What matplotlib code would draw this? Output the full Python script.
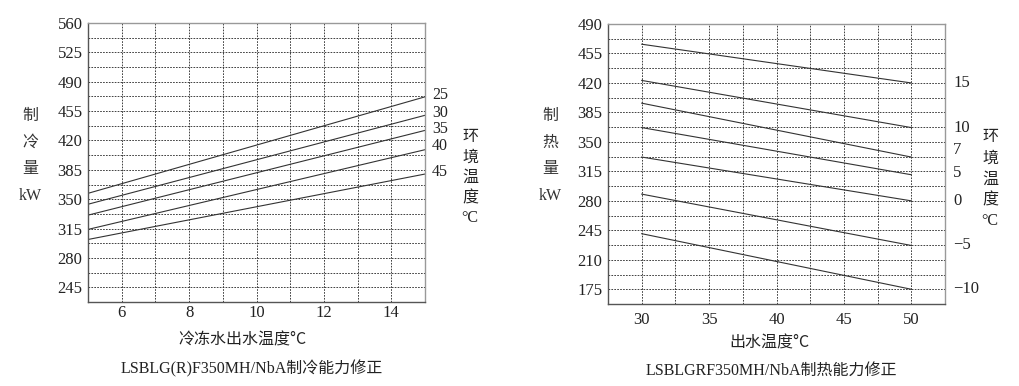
import matplotlib
matplotlib.use("Agg")
import matplotlib.pyplot as plt
import numpy as np

plt.rcParams['font.family'] = ['Liberation Serif', 'Noto Sans CJK SC', 'DejaVu Sans']

# Cooling chart data
cool_x = [5, 15]
cool_labels = ['25', '30', '35', '40', '45']
cool_25 = [357, 472]
cool_30 = [344, 450]
cool_35 = [331, 432]
cool_40 = [314, 409]
cool_45 = [302, 380]
cool_series = [cool_25, cool_30, cool_35, cool_40, cool_45]
cool_yticks = [245, 280, 315, 350, 385, 420, 455, 490, 525, 560]
cool_xticks = [6, 8, 10, 12, 14]

# Heating chart data
heat_x = [30, 50]
heat_labels = ['15', '10', '7', '5', '0', '−5', '−10']
heat_15 = [466, 420]
heat_10 = [423, 367]
heat_7 = [396, 332]
heat_5 = [367, 311]
heat_0 = [332, 280]
heat_m5 = [288, 227]
heat_m10 = [241, 175]
heat_series = [heat_15, heat_10, heat_7, heat_5, heat_0, heat_m5, heat_m10]
heat_yticks = [175, 210, 245, 280, 315, 350, 385, 420, 455, 490]
heat_xticks = [30, 35, 40, 45, 50]

W, H = 1019, 386
fig = plt.figure(figsize=(W / 100, H / 100), dpi=100)

def px_axes(l, t, r, b):
    return fig.add_axes([l / W, 1 - b / H, (r - l) / W, (b - t) / H])

FS = 12
CJK = ['Noto Sans CJK SC', 'DejaVu Sans']

def style(ax, xlim, ylim, xgrid, ygrid, xticks, yticks):
    ax.set_xlim(*xlim)
    ax.set_ylim(*ylim)
    ax.set_xticks(xticks)
    ax.set_yticks(yticks)
    ax.set_xticks(xgrid, minor=True)
    ax.set_yticks(ygrid, minor=True)
    ax.grid(which='both', color='#222222', linestyle=(0, (2, 1.5)), linewidth=0.6)
    ax.tick_params(which='both', length=0, labelsize=FS, colors='#222222', pad=4)
    for s in ['left', 'bottom']:
        ax.spines[s].set_color('#555555')
        ax.spines[s].set_linewidth(1.0)
    for s in ['top', 'right']:
        ax.spines[s].set_color('#999999')
        ax.spines[s].set_linewidth(1.0)

# Cooling axes
ax1 = px_axes(88, 23, 425, 302)
style(ax1, (5, 15), (227.5, 560), np.arange(5, 15.01, 1), np.arange(227.5, 560.1, 17.5), cool_xticks, cool_yticks)
ax1.tick_params(axis='x', pad=2)
for ys in cool_series:
    ax1.plot(cool_x, ys, color='#333333', linewidth=0.8)
cool_label_y = [474, 452.5, 433.5, 413, 382]
for lab, ly in zip(cool_labels, cool_label_y):
    ax1.annotate(lab, xy=(1.0, ly), xycoords=('axes fraction', 'data'), xytext=(5, 0), textcoords='offset points',
                 va='center', ha='left', fontsize=11.5, color='#222222')
for i, ch in enumerate(['制', '冷', '量', 'kW']):
    fig.text(30 / W, 1 - (115 + 27 * i) / H, ch, ha='center', va='center', fontsize=11.5,
             family=CJK if ch != 'kW' else ['Liberation Serif'], color='#333333')
for i, ch in enumerate(['环', '境', '温', '度', '°C']):
    fig.text(470 / W, 1 - (137 + 20.3 * i) / H, ch, ha='center', va='center', fontsize=11.5,
             family=CJK if ch != '°C' else ['Liberation Serif'], color='#222222')
fig.text(242 / W, 1 - 340 / H, '冷冻水出水温度°C', ha='center', va='center', fontsize=11.5, family=CJK, color='#222222')
fig.text(252 / W, 1 - 369 / H, 'LSBLG(R)F350MH/NbA制冷能力修正', ha='center', va='center', fontsize=11.5, color='#222222')

# Heating axes
ax2 = px_axes(608, 24, 945, 304)
style(ax2, (27.5, 52.5), (157.5, 490), np.arange(27.5, 52.51, 2.5), np.arange(157.5, 490.1, 17.5), heat_xticks, heat_yticks)
for ys in heat_series:
    ax2.plot(heat_x, ys, color='#333333', linewidth=0.8)
ax2.tick_params(axis='x', pad=6)
label_y = [420, 367, 340, 313, 280, 228, 175]
for lab, ly in zip(heat_labels, label_y):
    ax2.annotate(lab, xy=(1.0, ly), xycoords=('axes fraction', 'data'), xytext=(6, 0), textcoords='offset points',
                 va='center', ha='left', fontsize=FS, color='#222222')
for i, ch in enumerate(['制', '热', '量', 'kW']):
    fig.text(550 / W, 1 - (115 + 27 * i) / H, ch, ha='center', va='center', fontsize=11.5,
             family=CJK if ch != 'kW' else ['Liberation Serif'], color='#333333')
for i, ch in enumerate(['环', '境', '温', '度', '°C']):
    fig.text(990 / W, 1 - (137 + 21 * i) / H, ch, ha='center', va='center', fontsize=11.5,
             family=CJK if ch != '°C' else ['Liberation Serif'], color='#222222')
fig.text(769 / W, 1 - 343 / H, '出水温度°C', ha='center', va='center', fontsize=11.5, family=CJK, color='#222222')
fig.text(771 / W, 1 - 371 / H, 'LSBLGRF350MH/NbA制热能力修正', ha='center', va='center', fontsize=11.5, color='#222222')

fig.savefig('out.png', dpi=100, facecolor='white')
